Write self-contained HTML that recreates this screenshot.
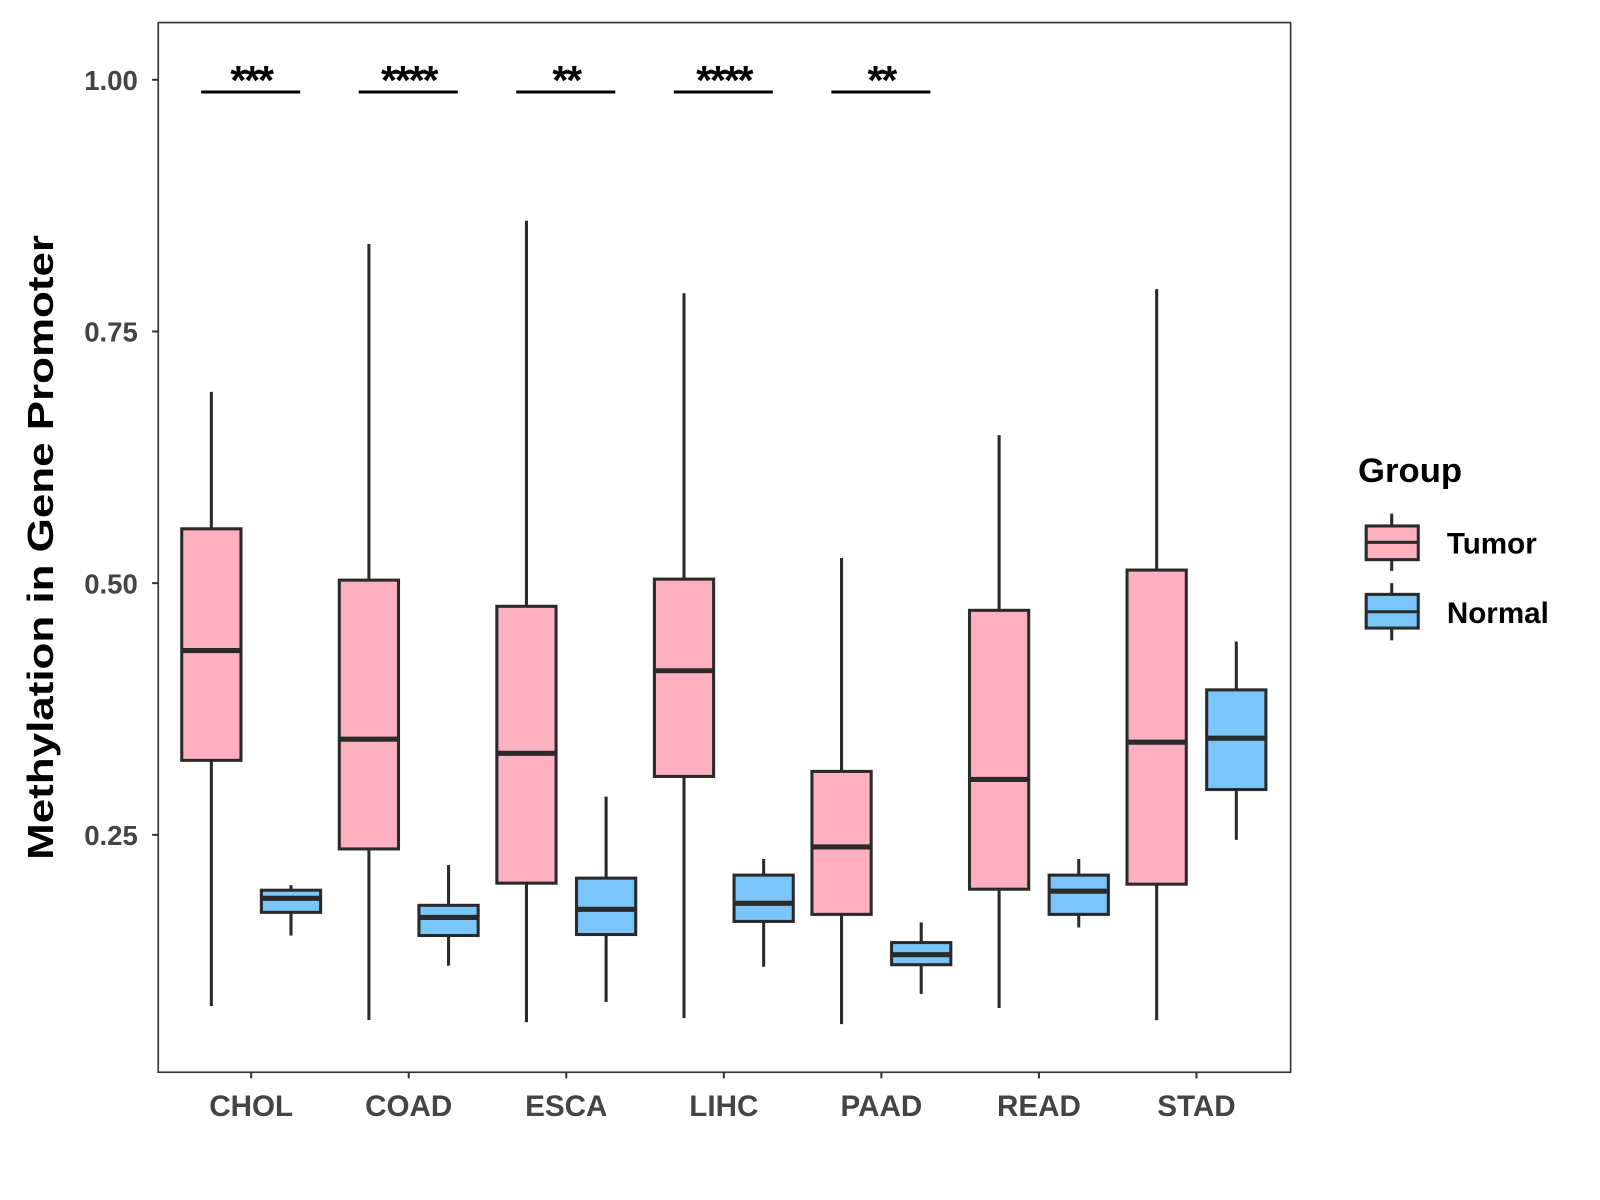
<!DOCTYPE html>
<html><head><meta charset="utf-8"><style>
html,body{margin:0;padding:0;background:#fff;}
svg{display:block;font-family:"Liberation Sans",Arial,sans-serif;}
</style></head><body>
<svg id="chart" width="1600" height="1200" viewBox="0 0 1567 1175" xmlns="http://www.w3.org/2000/svg">
<rect x="0" y="0" width="1567" height="1175" fill="#fff"/>
<g id="plot"></g>
<rect x="155" y="22" width="1109" height="1028" fill="none" stroke="#333" stroke-width="1.6"/>
<text transform="translate(52,536) rotate(-90)" text-anchor="middle" font-size="35" font-weight="bold" fill="#000" textLength="612" lengthAdjust="spacingAndGlyphs">Methylation in Gene Promoter</text>
<g>
<text x="1330" y="472" font-size="34" font-weight="bold">Group</text>
<g>
<line x1="1363" y1="503" x2="1363" y2="559" stroke="#2a2a2a" stroke-width="3"/>
<rect x="1338" y="515" width="51" height="33" fill="#FDB0C0" stroke="#2a2a2a" stroke-width="3"/>
<line x1="1338" y1="531" x2="1389" y2="531" stroke="#2a2a2a" stroke-width="3"/>
<text x="1417" y="542" font-size="29" font-weight="bold">Tumor</text>
</g>
<g>
<line x1="1363" y1="571" x2="1363" y2="627" stroke="#2a2a2a" stroke-width="3"/>
<rect x="1338" y="582" width="51" height="33" fill="#7AC5F9" stroke="#2a2a2a" stroke-width="3"/>
<line x1="1338" y1="599" x2="1389" y2="599" stroke="#2a2a2a" stroke-width="3"/>
<text x="1417" y="610" font-size="29" font-weight="bold">Normal</text>
</g>
</g>
</svg>
<script>
const categories = ["CHOL","COAD","ESCA","LIHC","PAAD","READ","STAD"];
// [lower whisker, Q1, median, Q3, upper whisker]
const tumorStats = [
 [0.080,0.324,0.433,0.554,0.690],
 [0.066,0.236,0.345,0.503,0.837],
 [0.064,0.202,0.331,0.477,0.860],
 [0.068,0.308,0.413,0.504,0.788],
 [0.062,0.171,0.238,0.313,0.525],
 [0.078,0.196,0.305,0.473,0.647],
 [0.066,0.201,0.342,0.513,0.792]
];
const normalStats = [
 [0.150,0.173,0.187,0.195,0.200],
 [0.120,0.150,0.168,0.180,0.220],
 [0.084,0.151,0.176,0.207,0.288],
 [0.119,0.164,0.182,0.210,0.226],
 [0.092,0.121,0.131,0.143,0.163],
 [0.158,0.171,0.194,0.210,0.226],
 [0.245,0.295,0.346,0.394,0.442]
];
const significance = ["***","****","**","****","**","",""];
const yTicks = [0.25,0.50,0.75,1.00];
const yTickLabels = ["0.25","0.50","0.75","1.00"];

const NS="http://www.w3.org/2000/svg";
const g=document.getElementById('plot');
function y(v){return 78+(1-v)*986;}
function x(i){return 246+i*154.3;}
function mk(t,a,p){const e=document.createElementNS(NS,t);for(const k in a)e.setAttribute(k,a[k]);(p||g).appendChild(e);return e;}

yTicks.forEach((v,i)=>{
 const tk=mk('line',{x1:149,x2:155,y1:y(v),y2:y(v),stroke:'#333','stroke-width':2});
 
 
 const t=mk('text',{x:135,y:y(v)+10,'text-anchor':'end','font-size':27,'font-weight':'bold',fill:'#444'});
 t.textContent=yTickLabels[i];
 
 
});
categories.forEach((c,i)=>{
 const tk=mk('line',{x1:x(i),x2:x(i),y1:1050,y2:1056,stroke:'#333','stroke-width':2});
 
 
 const t=mk('text',{x:x(i),y:1093,'text-anchor':'middle','font-size':29,'font-weight':'bold',fill:'#444'});
 t.textContent=c;
 
 
});
function box(cx,s,fill,name){
 const grp=mk('g',{});
 
 
 const w=29;
 mk('line',{x1:cx,x2:cx,y1:y(s[0]),y2:y(s[1]),stroke:'#2a2a2a','stroke-width':3},grp);
 mk('line',{x1:cx,x2:cx,y1:y(s[3]),y2:y(s[4]),stroke:'#2a2a2a','stroke-width':3},grp);
 mk('rect',{x:cx-w,y:y(s[3]),width:2*w,height:y(s[1])-y(s[3]),fill:fill,stroke:'#2a2a2a','stroke-width':3},grp);
 mk('line',{x1:cx-w,x2:cx+w,y1:y(s[2]),y2:y(s[2]),stroke:'#2a2a2a','stroke-width':5},grp);
}
categories.forEach((c,i)=>{
 box(x(i)-39,tumorStats[i],'#FDB0C0','box-tumor-'+c.toLowerCase());
 box(x(i)+39,normalStats[i],'#7AC5F9','box-normal-'+c.toLowerCase());
 if(significance[i]){
  const l=mk('line',{x1:x(i)-49,x2:x(i)+48,y1:90,y2:90,stroke:'#000','stroke-width':3});
  
  
  const t=mk('text',{x:x(i),y:92,'text-anchor':'middle','font-size':40,'font-weight':'bold',fill:'#000','letter-spacing':'-2'});
  t.textContent=significance[i];
  
  
 }
});
</script>
</body></html>
